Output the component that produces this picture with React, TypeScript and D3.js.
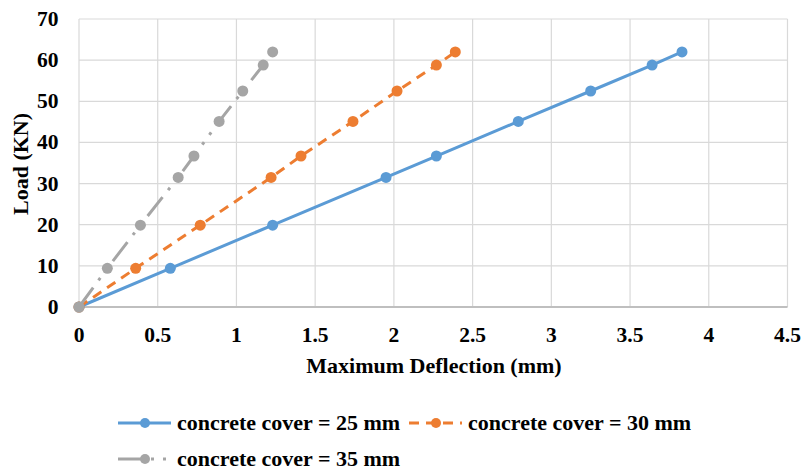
import React, { useEffect, useRef } from 'react';
import * as d3 from 'd3';

// loads are the same for all three covers
const loads = [0, 9.4, 19.9, 31.5, 36.7, 45.1, 52.5, 58.8, 62];
const deflection25 = [0, 0.58, 1.23, 1.95, 2.27, 2.79, 3.25, 3.64, 3.83];
const deflection30 = [0, 0.36, 0.77, 1.22, 1.41, 1.74, 2.02, 2.27, 2.39];
const deflection35 = [0, 0.18, 0.39, 0.63, 0.73, 0.89, 1.04, 1.17, 1.23];

const seriesNames = ['concrete cover = 25 mm', 'concrete cover = 30 mm', 'concrete cover = 35 mm'];
const xTicks = [0, 0.5, 1, 1.5, 2, 2.5, 3, 3.5, 4, 4.5];
const yTicks = [0, 10, 20, 30, 40, 50, 60, 70];

const App = () => {
  const ref = useRef(null);

  useEffect(() => {
    const svg = d3.select(ref.current);
    svg.selectAll('*').remove();
    svg.attr('font-family', '"Liberation Serif", "Times New Roman", serif')
      .attr('font-weight', 'bold');

    const x = d3.scaleLinear().domain([0, 4.5]).range([79, 787.5]);
    const y = d3.scaleLinear().domain([0, 70]).range([307, 19]);

    const series = [
      { name: seriesNames[0], xs: deflection25, color: '#5B9BD5', dash: null },
      { name: seriesNames[1], xs: deflection30, color: '#ED7D31', dash: '10,7' },
      { name: seriesNames[2], xs: deflection35, color: '#A5A5A5', dash: '24,9,3,9,3,9' },
    ];

    // grid
    const grid = svg.append('g');
    grid.selectAll('line.v')
      .data(xTicks)
      .join('line')
      .attr('class', 'v')
      .attr('x1', d => x(d)).attr('x2', d => x(d))
      .attr('y1', y(70)).attr('y2', y(0))
      .attr('stroke', '#d9d9d9').attr('stroke-width', 1.2);
    grid.selectAll('line.h')
      .data(yTicks.filter(d => d > 0))
      .join('line')
      .attr('class', 'h')
      .attr('x1', x(0)).attr('x2', x(4.5))
      .attr('y1', d => y(d)).attr('y2', d => y(d))
      .attr('stroke', '#d9d9d9').attr('stroke-width', 1.2);
    svg.append('line')
      .attr('x1', x(0)).attr('x2', x(4.5))
      .attr('y1', y(0)).attr('y2', y(0))
      .attr('stroke', '#bfbfbf').attr('stroke-width', 2);

    // tick labels
    svg.append('g').selectAll('text')
      .data(yTicks)
      .join('text')
      .attr('x', 58.5)
      .attr('y', d => y(d) + 7)
      .attr('text-anchor', 'end')
      .attr('font-size', 21.5)
      .text(d => d);
    svg.append('g').selectAll('text')
      .data(xTicks)
      .join('text')
      .attr('x', d => x(d))
      .attr('y', 342)
      .attr('text-anchor', 'middle')
      .attr('font-size', 21.5)
      .text(d => d);

    // axis titles
    svg.append('text')
      .attr('x', 434).attr('y', 373)
      .attr('text-anchor', 'middle')
      .attr('font-size', 22)
      .text('Maximum Deflection (mm)');
    svg.append('text')
      .attr('transform', 'translate(27.5,164) rotate(-90)')
      .attr('text-anchor', 'middle')
      .attr('font-size', 22)
      .text('Load (KN)');

    const line = d3.line().x(d => x(d[0])).y(d => y(d[1]));

    series.forEach(s => {
      const pts = s.xs.map((v, i) => [v, loads[i]]);
      svg.append('path')
        .attr('d', line(pts))
        .attr('fill', 'none')
        .attr('stroke', s.color)
        .attr('stroke-width', 3)
        .attr('stroke-dasharray', s.dash);
      svg.append('g').selectAll('circle')
        .data(pts)
        .join('circle')
        .attr('cx', d => x(d[0]))
        .attr('cy', d => y(d[1]))
        .attr('r', 5.5)
        .attr('fill', s.color);
    });

    // legend
    const legendPos = [
      { lx: 118, ty: 423 },
      { lx: 409, ty: 423 },
      { lx: 118, ty: 459 },
    ];
    series.forEach((s, i) => {
      const p = legendPos[i];
      const g = svg.append('g');
      g.append('line')
        .attr('x1', p.lx).attr('x2', p.lx + 53)
        .attr('y1', p.ty).attr('y2', p.ty)
        .attr('stroke', s.color).attr('stroke-width', 3)
        .attr('stroke-dasharray', s.dash);
      g.append('circle')
        .attr('cx', p.lx + 27).attr('cy', p.ty)
        .attr('r', 5)
        .attr('fill', s.color);
      g.append('text')
        .attr('x', p.lx + 59).attr('y', p.ty + 7)
        .attr('font-size', 22)
        .text(s.name);
    });
  }, []);

  return (
    <svg ref={ref} width="803" height="471" style={{ position: 'absolute', left: 0, top: 0, background: '#fff' }}></svg>
  );
};

export default App;
